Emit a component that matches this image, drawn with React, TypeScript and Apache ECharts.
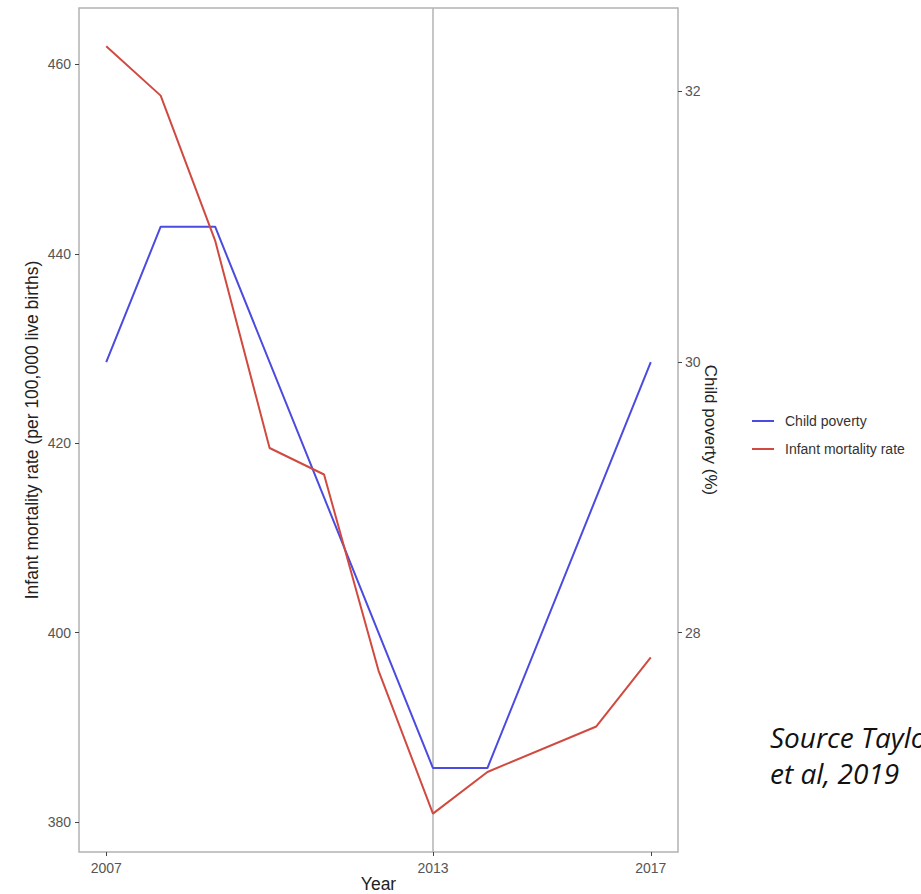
import React, { useEffect, useRef } from "react";
import * as echarts from "echarts";

// Infant mortality rate (per 100,000 live births)
const mortalityYears = [2007, 2008, 2009, 2010, 2011, 2012, 2013, 2014, 2016, 2017];
const mortalityValues = [461.9, 456.7, 441.4, 419.5, 416.7, 396.0, 380.9, 385.3, 390.1, 397.4];

// Child poverty (%)
const povertyYears = [2007, 2008, 2009, 2013, 2014, 2017];
const povertyValues = [30.0, 31.0, 31.0, 27.0, 27.0, 30.0];

const xTickLabels = [2007, 2013, 2017];
const leftTicks = [380, 400, 420, 440, 460];
const rightTicks = [28, 30, 32];
const secondaryFactor = 0.07; // right axis = left axis * 0.07
const markYear = 2013;

const FONT = "'Liberation Sans', Arial, sans-serif";

export default function App() {
  const ref = useRef<HTMLDivElement>(null);

  useEffect(() => {
    if (!ref.current) return;
    const chart = echarts.init(ref.current, undefined, { renderer: "svg" });

    const all = mortalityValues.concat(povertyValues.map((v) => v / secondaryFactor));
    const lo = Math.min(...all);
    const hi = Math.max(...all);
    const pad = (hi - lo) * 0.05;
    const yMin = lo - pad;
    const yMax = hi + pad;
    const xLo = Math.min(...mortalityYears, ...povertyYears);
    const xHi = Math.max(...mortalityYears, ...povertyYears);
    const xPad = (xHi - xLo) * 0.05;

    const option: any = {
      animation: false,
      backgroundColor: "#ffffff",
      textStyle: { fontFamily: FONT },
      grid: {
        left: 79,
        right: 243,
        top: 8,
        bottom: 42,
        containLabel: false,
        outerBoundsMode: "none",
        show: true,
        borderColor: "#b3b3b3",
        borderWidth: 1.5,
        backgroundColor: "transparent",
      },
      legend: {
        orient: "vertical",
        left: 747,
        top: 409,
        icon: "rect",
        itemWidth: 22,
        itemHeight: 2,
        itemGap: 14,
        textStyle: { fontSize: 14, color: "#333", fontFamily: FONT, padding: [0, 0, 0, 6] },
        data: ["Child poverty", "Infant mortality rate"],
      },
      xAxis: {
        type: "value",
        min: xLo - xPad,
        max: xHi + xPad,
        name: "Year",
        nameLocation: "middle",
        nameGap: 23,
        nameMoveOverlap: false,
        nameTextStyle: { fontSize: 17.5, color: "#222", fontFamily: FONT },
        axisLine: { show: false },
        splitLine: { show: false },
        axisTick: {
          show: true,
          customValues: xTickLabels,
          length: 4,
          lineStyle: { color: "#444", width: 1 },
        },
        axisLabel: {
          customValues: xTickLabels,
          fontSize: 14,
          color: "#555",
          margin: 9,
          formatter: (v: number) => String(v),
        },
      },
      yAxis: [
        {
          type: "value",
          position: "left",
          min: yMin,
          max: yMax,
          name: "Infant mortality rate (per 100,000 live births)",
          nameLocation: "middle",
          nameGap: 38,
          nameMoveOverlap: false,
          nameTextStyle: { fontSize: 17.5, color: "#222", fontFamily: FONT },
          axisLine: { show: false },
          splitLine: { show: false },
          axisTick: {
            show: true,
            customValues: leftTicks,
            length: 4,
            lineStyle: { color: "#444", width: 1 },
          },
          axisLabel: {
            customValues: leftTicks,
            fontSize: 14,
            color: "#555",
            margin: 8,
            formatter: (v: number) => String(v),
          },
        },
        {
          type: "value",
          position: "right",
          min: yMin * secondaryFactor,
          max: yMax * secondaryFactor,
          name: "Child poverty (%)",
          nameLocation: "middle",
          nameRotate: -90,
          nameGap: 24,
          nameMoveOverlap: false,
          nameTextStyle: { fontSize: 17, color: "#222", fontFamily: FONT },
          axisLine: { show: false },
          splitLine: { show: false },
          axisTick: {
            show: true,
            customValues: rightTicks,
            length: 4,
            lineStyle: { color: "#444", width: 1 },
          },
          axisLabel: {
            customValues: rightTicks,
            fontSize: 14,
            color: "#555",
            margin: 7,
            formatter: (v: number) => String(v),
          },
        },
      ],
      series: [
        {
          name: "Child poverty",
          type: "line",
          yAxisIndex: 1,
          symbol: "none",
          data: povertyYears.map((y, i) => [y, povertyValues[i]]),
          lineStyle: { color: "#4b4bdf", width: 2 },
          itemStyle: { color: "#4b4bdf" },
          z: 3,
        },
        {
          name: "Infant mortality rate",
          type: "line",
          yAxisIndex: 0,
          symbol: "none",
          data: mortalityYears.map((y, i) => [y, mortalityValues[i]]),
          lineStyle: { color: "#d04a40", width: 2 },
          itemStyle: { color: "#d04a40" },
          z: 3,
          markLine: {
            silent: true,
            symbol: ["none", "none"],
            label: { show: false },
            lineStyle: { color: "#b3b3b3", width: 1.5, type: "solid" },
            data: [{ xAxis: markYear }],
            z: 1,
          },
        },
      ],
      graphic: [
        {
          type: "text",
          x: 770,
          y: 737,
          style: {
            text: "Source Taylor",
            fontSize: 28,
            fontStyle: "italic",
            fontFamily: "'Open Sans', sans-serif",
            fill: "#111",
            verticalAlign: "middle",
          },
        },
        {
          type: "text",
          x: 770,
          y: 773,
          style: {
            text: "et al, 2019",
            fontSize: 28,
            fontStyle: "italic",
            fontFamily: "'Open Sans', sans-serif",
            fill: "#111",
            verticalAlign: "middle",
          },
        },
      ],
    };

    chart.setOption(option);
    return () => chart.dispose();
  }, []);

  return (
    <div
      ref={ref}
      style={{ position: "absolute", left: 0, top: 0, width: 921, height: 894, background: "#fff" }}
    />
  );
}
